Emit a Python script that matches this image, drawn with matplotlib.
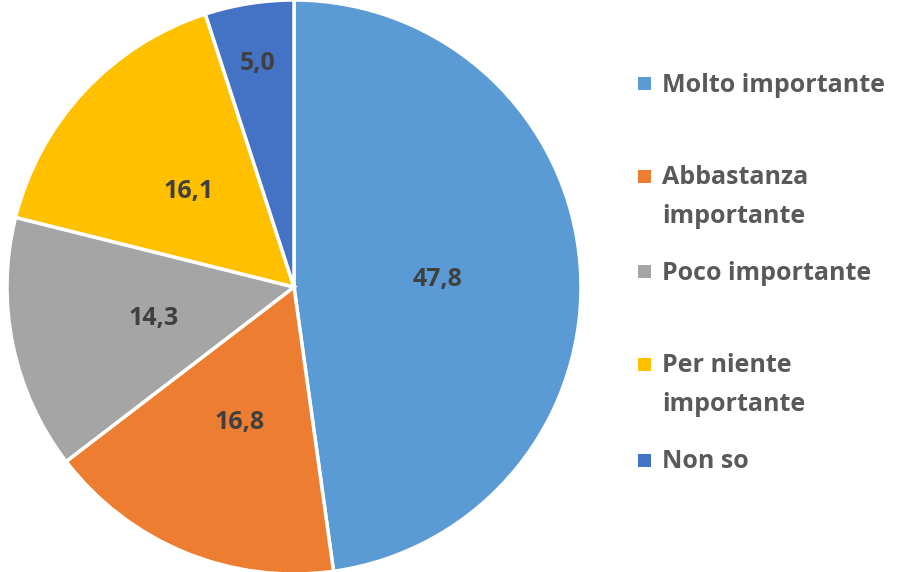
import matplotlib.pyplot as plt
from matplotlib.patches import Rectangle
import numpy as np

# data
categories = ['Molto importante', 'Abbastanza\nimportante', 'Poco importante',
              'Per niente\nimportante', 'Non so']
values = [47.8, 16.8, 14.3, 16.1, 5.0]
colors = ['#5B9BD5', '#ED7D31', '#A5A5A5', '#FFC000', '#4472C4']

plt.rcParams['font.family'] = ['Open Sans', 'DejaVu Sans']

W, H = 902, 572
fig = plt.figure(figsize=(W / 100, H / 100), dpi=100)

# pie area: centre (294, 287), radius 287 px
cx, cy, r = 294, 287, 287
ax = fig.add_axes([(cx - r) / W, (H - cy - r) / H, 2 * r / W, 2 * r / H])
wedges, _ = ax.pie(values, colors=colors, startangle=90, counterclock=False,
                   wedgeprops=dict(edgecolor='white', linewidth=2.5))
ax.set_xlim(-1, 1)
ax.set_ylim(-1, 1)
ax.set_aspect('equal')
ax.axis('off')

for w, v in zip(wedges, values):
    ang = np.deg2rad((w.theta1 + w.theta2) / 2)
    d = 0.5 if v > 10 else 0.8
    ax.text(d * np.cos(ang), d * np.sin(ang) - 0.01, f'{v:.1f}'.replace('.', ','),
            ha='center', va='center', fontsize=18, fontweight='bold', color='#404040')

# legend, drawn by hand to match spacing
legend_y = [83, 195, 271, 383, 460]
for lab, col, y in zip(categories, colors, legend_y):
    nlines = lab.count('\n') + 1
    top = y - (nlines - 1) * 19
    fig.add_artist(Rectangle((638 / W, (H - top - 6.5) / H), 13 / W, 13 / H,
                             transform=fig.transFigure, facecolor=col, edgecolor='none'))
    fig.text(662 / W, (H - y - 2) / H, lab, ha='left', va='center', fontsize=18,
             fontweight='bold', color='#595959', linespacing=1.7)

fig.savefig('out.png', dpi=100)
